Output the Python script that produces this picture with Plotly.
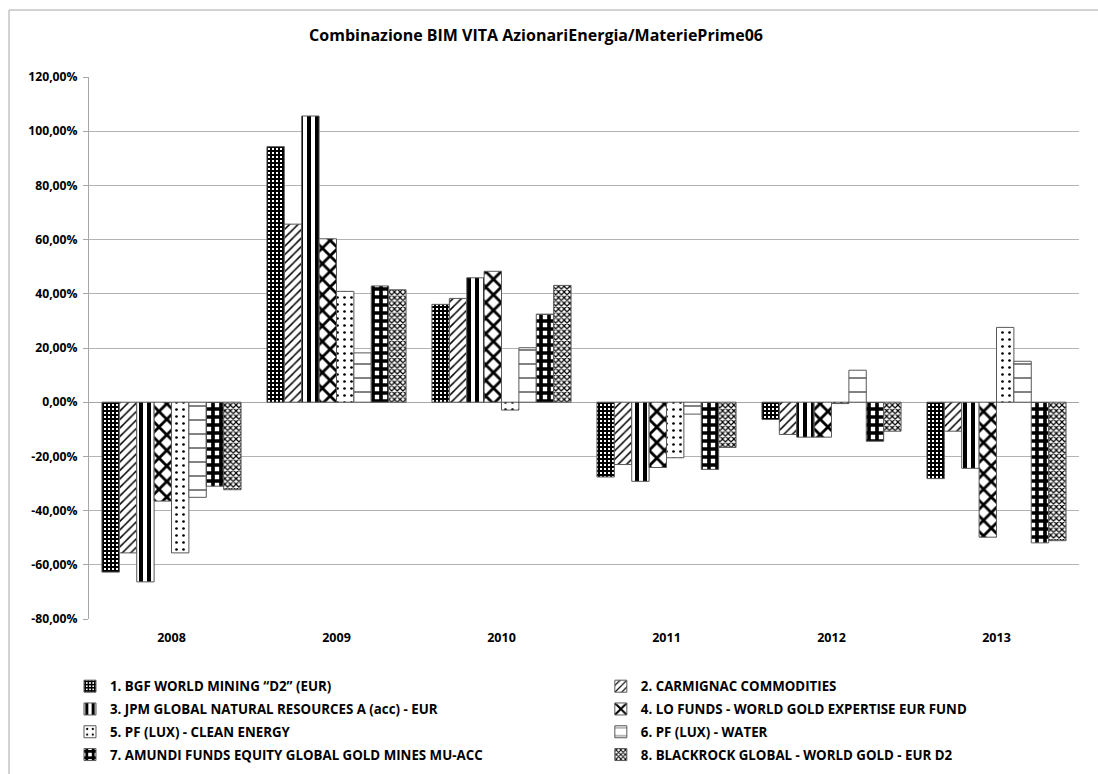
import plotly.graph_objects as go

years = ["2008", "2009", "2010", "2011", "2012", "2013"]

names = [
    "1. BGF WORLD MINING \u201cD2\u201d (EUR)",
    "2. CARMIGNAC COMMODITIES",
    "3. JPM GLOBAL NATURAL RESOURCES A (acc) - EUR",
    "4. LO FUNDS - WORLD GOLD EXPERTISE EUR FUND",
    "5. PF (LUX) - CLEAN ENERGY",
    "6. PF (LUX) - WATER",
    "7. AMUNDI FUNDS EQUITY GLOBAL GOLD MINES MU-ACC",
    "8. BLACKROCK GLOBAL - WORLD GOLD - EUR D2",
]

bgf_world_mining = [-62.7, 94.3, 36.1, -27.6, -6.4, -28.2]
carmignac_commodities = [-55.6, 65.7, 38.3, -23.0, -11.9, -10.7]
jpm_natural_resources = [-66.3, 105.6, 45.9, -29.2, -12.9, -24.4]
lo_funds_world_gold = [-36.5, 60.3, 48.3, -24.1, -12.9, -49.8]
pf_clean_energy = [-55.6, 40.9, -2.9, -20.5, -0.5, 27.6]
pf_water = [-35.1, 18.2, 20.1, -4.4, 11.8, 15.1]
amundi_gold_mines = [-31.0, 42.9, 32.5, -24.8, -14.4, -51.9]
blackrock_world_gold = [-32.3, 41.5, 43.1, -16.7, -10.7, -51.1]

series = [bgf_world_mining, carmignac_commodities, jpm_natural_resources,
          lo_funds_world_gold, pf_clean_energy, pf_water,
          amundi_gold_mines, blackrock_world_gold]

y_tickvals = [-80, -60, -40, -20, 0, 20, 40, 60, 80, 100, 120]
y_ticktext = ["-80,00%", "-60,00%", "-40,00%", "-20,00%", "0,00%", "20,00%",
              "40,00%", "60,00%", "80,00%", "100,00%", "120,00%"]

patterns = [
    dict(shape="+", fgcolor="black", bgcolor="white", size=4, solidity=0.75),
    dict(shape="/", fgcolor="black", bgcolor="white", size=6, solidity=0.25),
    dict(shape="|", fgcolor="black", bgcolor="white", size=8, solidity=0.5),
    dict(shape="x", fgcolor="black", bgcolor="white", size=11, solidity=0.45),
    dict(shape=".", fgcolor="black", bgcolor="white", size=7, solidity=0.12),
    dict(shape="-", fgcolor="black", bgcolor="white", size=14, solidity=0.07),
    dict(shape="+", fgcolor="black", bgcolor="white", size=8, solidity=0.7),
    dict(shape="x", fgcolor="black", bgcolor="white", size=4, solidity=0.5),
]

FONT = "Open Sans"
fig = go.Figure()
for i, (nm, vals, pat) in enumerate(zip(names, series, patterns)):
    fig.add_trace(go.Bar(
        x=years, y=vals, name=nm,
        legend="legend" if i % 2 == 0 else "legend2",
        legendgroup="g%d" % i,
        marker=dict(color="white", pattern=dict(fillmode="replace", **pat),
                    line=dict(color="#595959", width=1)),
    ))

legend_common = dict(
    orientation="v", yanchor="top", xanchor="left", traceorder="grouped",
    tracegroupgap=2.5, bgcolor="rgba(0,0,0,0)",
    font=dict(family=FONT, size=13.3, color="black", weight="bold"),
)

fig.update_layout(
    width=1098, height=774,
    paper_bgcolor="white", plot_bgcolor="white",
    margin=dict(l=89, r=19, t=77, b=155, autoexpand=False),
    barmode="group", bargap=0.157, bargroupgap=0,
    title=dict(text="<b>Combinazione BIM VITA AzionariEnergia/MateriePrime06</b>",
               x=0.4882, xanchor="center", y=0.9548, yanchor="middle",
               font=dict(family=FONT, size=16, color="black")),
    font=dict(family=FONT, color="black"),
    xaxis=dict(type="category", showgrid=False, ticks="", showline=False,
               tickfont=dict(family=FONT, size=12.5, color="black", weight="bold"),
               ticklabelstandoff=9),
    yaxis=dict(range=[-80, 120], tickvals=y_tickvals, ticktext=y_ticktext,
               showgrid=True, gridcolor="#b3b3b3", gridwidth=1,
               zeroline=True, zerolinecolor="#a6a6a6", zerolinewidth=1,
               showline=True, linecolor="#a6a6a6", linewidth=1,
               ticks="outside", ticklen=5, tickcolor="#a6a6a6",
               ticklabelstandoff=3,
               tickfont=dict(family=FONT, size=12.2, color="black", weight="bold")),
    legend=dict(x=-0.0192, y=-0.096, **legend_common),
    legend2=dict(x=0.517, y=-0.096, **legend_common),
    showlegend=True,
)

# chart-area frame (left and top edges visible; the rest lies outside the window)
fig.add_shape(type="path", xref="paper", yref="paper",
              path="M -0.0808,-0.6 L -0.0808,1.1236 L 1.3,1.1236",
              line=dict(color="#a6a6a6", width=1), layer="below")

fig.write_html(
    "out.html",
    config={"displayModeBar": False},
    post_script="document.body.style.margin='0';document.body.style.overflow='hidden';",
)
